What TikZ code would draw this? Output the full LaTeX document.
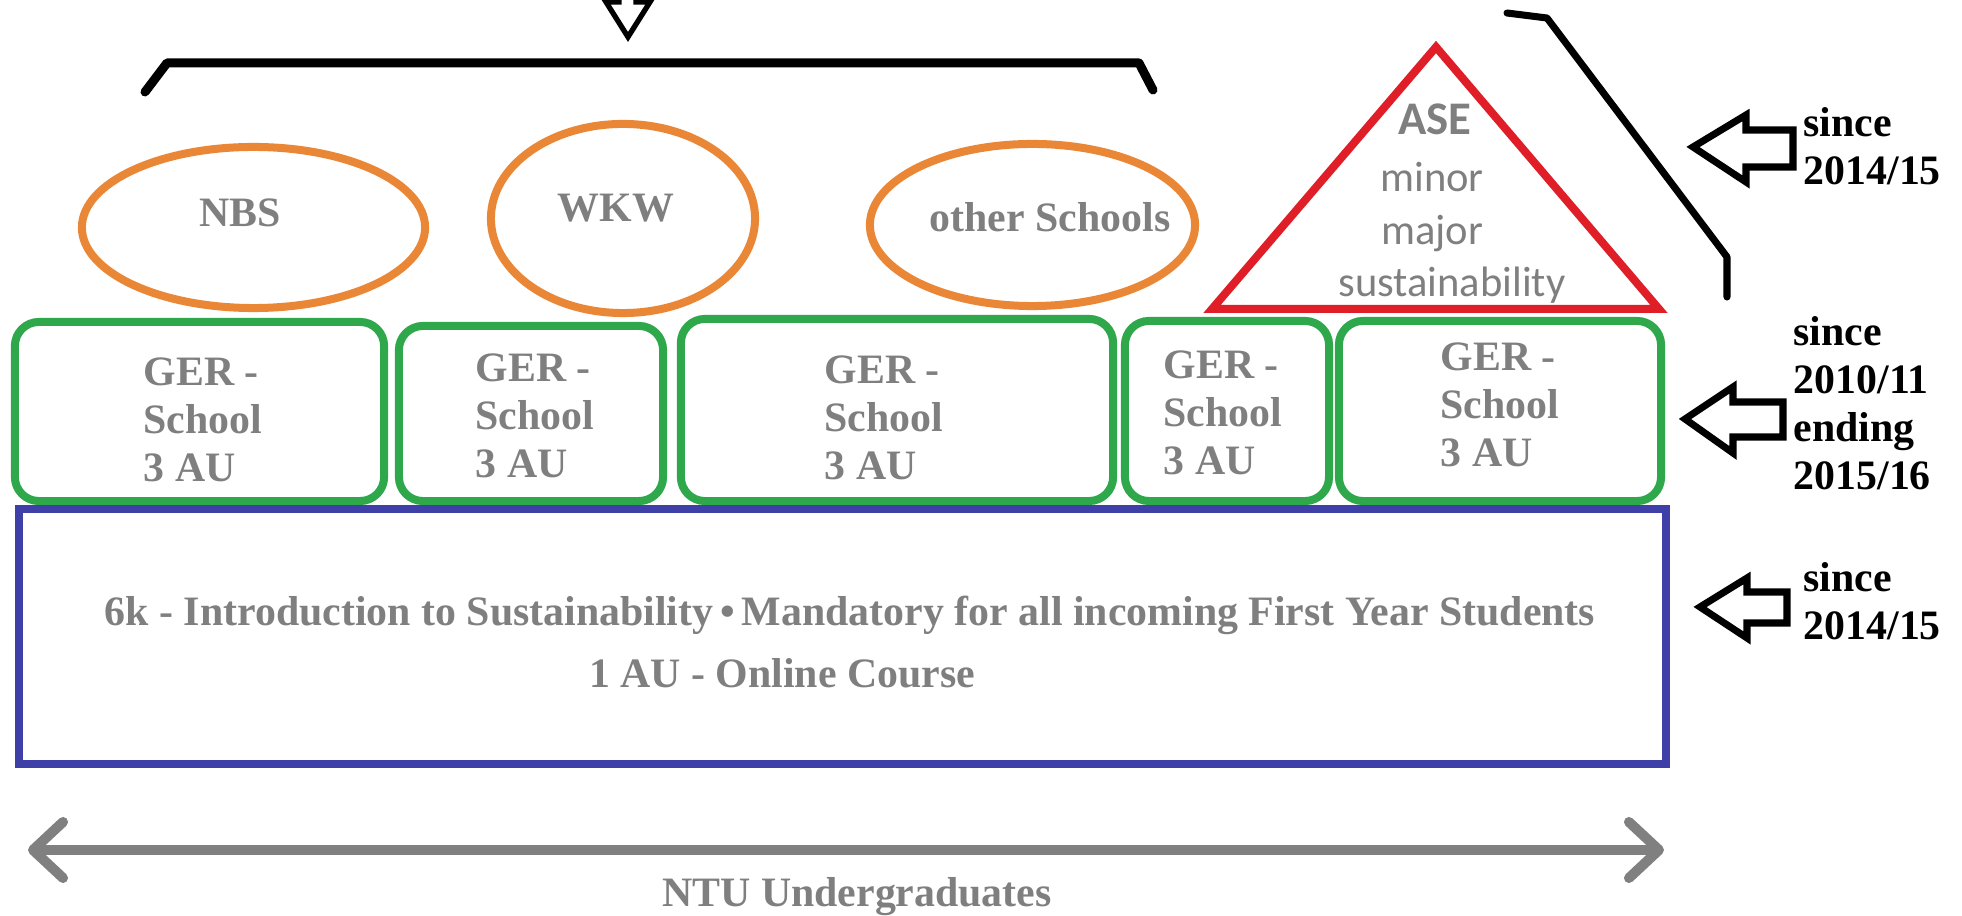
\documentclass[tikz,border=0pt]{standalone}
\usepackage{fontspec}
\setmainfont{Liberation Serif}
\newfontfamily\calib{Carlito}
\usetikzlibrary{shapes.geometric,arrows.meta}
\definecolor{txtgray}{RGB}{127,127,127}
\definecolor{gergreen}{RGB}{46,168,74}
\definecolor{schorange}{RGB}{234,135,55}
\definecolor{trired}{RGB}{224,30,40}
\definecolor{boxblue}{RGB}{62,64,168}
\definecolor{arrgray}{RGB}{128,128,128}
\begin{document}
\begin{tikzpicture}[x=0.01cm,y=-0.01cm,
  gerbox/.style={draw=gergreen,line width=2.28pt,rounded corners=0.24cm,inner sep=0},
  introbox/.style={draw=boxblue,line width=2.28pt,inner sep=0},
  schoolell/.style={ellipse,draw=schorange,line width=2.28pt,inner sep=0},
  sertext/.style={inner sep=0,text=txtgray,font=\fontsize{11.9}{13.7}\selectfont\bfseries,align=left},
  tritext/.style={inner sep=0,text=txtgray,font=\calib\fontsize{12.1}{15.4}\selectfont},
  lbltext/.style={inner sep=0,text=black,font=\fontsize{11.9}{13.7}\selectfont\bfseries,align=left,anchor=base west},
  blockarrow/.style={draw=black,line width=2pt},
  blackline/.style={draw=black,line cap=round,line join=round},
  ugarrow/.style={draw=arrgray,line width=2.85pt,
    {Straight Barb[length=0.3cm,width=0.56cm,round]}-{Straight Barb[length=0.3cm,width=0.56cm,round]}}
]
\useasboundingbox (0,0) rectangle (1962,916);

% top arrow head (cut off)
\draw[blackline,line width=1.5pt,line cap=butt,line join=miter]
  (619,-5) -- (619,2) -- (606,2) -- (628,37) -- (650,2) -- (636,2) -- (636,-5);
% bracket
\draw[blackline,line width=2.56pt] (145,92) -- (167,63) -- (1139,63) -- (1153,90);
% right bracket line
\draw[blackline,line width=2pt] (1507,13) -- (1547,18) -- (1727,257) -- (1727,297);

% school ellipses
\node[schoolell,minimum width=3.43cm,minimum height=1.61cm] (nbs) at (253.5,227.5) {};
\node[schoolell,minimum width=2.64cm,minimum height=1.89cm] (wkw) at (623,218.5) {};
\node[schoolell,minimum width=3.25cm,minimum height=1.62cm] (oth) at (1032.5,225) {};
\node[sertext,anchor=base] (nbst) at (240,227) {NBS};
\node[sertext,anchor=base] (wkwt) at (616,222) {WKW};
\node[sertext,anchor=base] (otht) at (1050,232) {other Schools};

% ASE triangle
\draw[draw=trired,line width=2.28pt] (1212,309) -- (1436,47) -- (1659,309) -- cycle;
\node[tritext,anchor=base,font=\calib\bfseries\fontsize{13.3}{15.4}\selectfont] (ase) at (1435,135) {ASE};
\node[tritext,anchor=base] (minor) at (1432,192) {minor};
\node[tritext,anchor=base] (major) at (1432,245) {major};
\node[tritext,anchor=base] (sust) at (1452,297) {sustainability};

% GER boxes
\node[gerbox,minimum width=3.69cm,minimum height=1.79cm] (g1) at (199.5,411.5) {};
\node[gerbox,minimum width=2.64cm,minimum height=1.75cm] (g2) at (531,413.5) {};
\node[gerbox,minimum width=4.32cm,minimum height=1.82cm] (g3) at (897,410) {};
\node[gerbox,minimum width=2.04cm,minimum height=1.80cm] (g4) at (1227,411) {};
\node[gerbox,minimum width=3.22cm,minimum height=1.80cm] (g5) at (1500,411) {};
\node[sertext,anchor=base west] (g1t) at (143,482) {GER -\\School\\3 AU};
\node[sertext,anchor=base west] (g2t) at (475,478) {GER -\\School\\3 AU};
\node[sertext,anchor=base west] (g3t) at (824,480) {GER -\\School\\3 AU};
\node[sertext,anchor=base west] (g4t) at (1163,475) {GER -\\School\\3 AU};
\node[sertext,anchor=base west] (g5t) at (1440,467) {GER -\\School\\3 AU};

% intro box
\node[introbox,minimum width=16.47cm,minimum height=2.55cm] (intro) at (842.5,636.5) {};
\node[sertext,anchor=base] (introa) at (850,626) {6k - Introduction to Sustainability\,•\,Mandatory for all incoming First Year Students};
\node[sertext,anchor=base] (introb) at (782,688) {1 AU - Online Course};

% undergraduates arrow
\coordinate (ugl) at (28,850);
\coordinate (ugr) at (1664,850);
\draw[ugarrow] (ugl) -- (ugr);
\node[sertext,anchor=base] (ntu) at (857,907) {NTU Undergraduates};

% block arrows and labels
\draw[blockarrow] (1693,147) -- (1746,115) -- (1746,130) -- (1793,130) -- (1793,167) -- (1746,167) -- (1746,182) -- cycle;
\node[lbltext] (l1) at (1803,185) {since\\2014/15};
\draw[blockarrow] (1685,419) -- (1733,387) -- (1733,402) -- (1783,402) -- (1783,437) -- (1733,437) -- (1733,453) -- cycle;
\node[lbltext] (l2) at (1793,490) {since\\2010/11\\ending\\2015/16};
\draw[blockarrow] (1700,607) -- (1747,578) -- (1747,592) -- (1787,592) -- (1787,623) -- (1747,623) -- (1747,638) -- cycle;
\node[lbltext] (l3) at (1803,640) {since\\2014/15};
\end{tikzpicture}
\end{document}
